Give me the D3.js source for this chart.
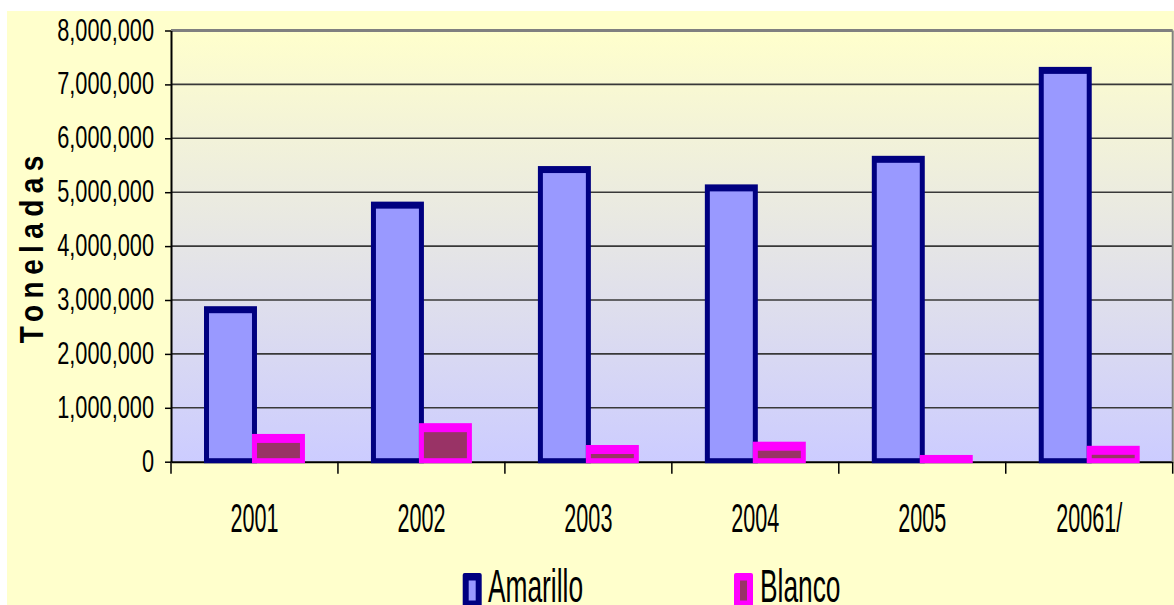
<!DOCTYPE html>
<html>
<head>
<meta charset="utf-8">
<script src="https://cdn.jsdelivr.net/npm/d3@7"></script>
<style>
  body { margin: 0; background: #ffffff; }
  svg { display: block; }
</style>
</head>
<body>
<svg id="chart"></svg>
<script>
// Data
const years = ["2001", "2002", "2003", "2004", "2005", "20061/"];
const amarillo = [2820000, 4760000, 5420000, 5080000, 5610000, 7260000];
const blanco = [450000, 650000, 245000, 306000, 60000, 230000];
const seriesNames = ["Amarillo", "Blanco"];
const yTicks = [0, 1000000, 2000000, 3000000, 4000000, 5000000, 6000000, 7000000, 8000000];

// Styles per series (kept apart from the data)
const seriesStyle = {
  Amarillo: { fill: "#9999FF", stroke: "#000080", top: 7 },
  Blanco: { fill: "#993366", stroke: "#FF00FF", top: 9 }
};

const W = 1174, H = 605;
const plot = { left: 171, right: 1172.7, top: 30.5, bottom: 461.7 };

const svg = d3.select("#chart")
  .attr("width", W)
  .attr("height", H);

// Chart area background (light yellow), white strip top/left
svg.append("rect")
  .attr("x", 7).attr("y", 11)
  .attr("width", W - 7).attr("height", H - 11)
  .attr("fill", "#FFFFCC");

// Plot area gradient
const defs = svg.append("defs");
const grad = defs.append("linearGradient")
  .attr("id", "plotGrad")
  .attr("x1", 0).attr("y1", 0).attr("x2", 0).attr("y2", 1);
grad.append("stop").attr("offset", "0%").attr("stop-color", "#FFFFCC");
grad.append("stop").attr("offset", "100%").attr("stop-color", "#CCCCFF");

svg.append("rect")
  .attr("x", plot.left).attr("y", plot.top)
  .attr("width", plot.right - plot.left)
  .attr("height", plot.bottom - plot.top)
  .attr("fill", "url(#plotGrad)");

// Scales
const x = d3.scaleBand()
  .domain(years)
  .range([plot.left, plot.right])
  .paddingInner(0)
  .paddingOuter(0);

const sub = d3.scaleBand()
  .domain(seriesNames)
  .range([0, x.bandwidth()])
  .paddingInner(0)
  .paddingOuter(0.74);

const y = d3.scaleLinear()
  .domain([0, 8000000])
  .range([plot.bottom, plot.top]);

// Gridlines
svg.append("g")
  .selectAll("line")
  .data(yTicks.slice(1, -1))
  .enter()
  .append("line")
  .attr("x1", plot.left).attr("x2", plot.right)
  .attr("y1", d => y(d)).attr("y2", d => y(d))
  .attr("stroke", "#383838")
  .attr("stroke-width", 1.6);

// Top border (gray)
svg.append("line")
  .attr("x1", plot.left).attr("x2", plot.right)
  .attr("y1", y(8000000)).attr("y2", y(8000000))
  .attr("stroke", "#808080")
  .attr("stroke-width", 3);

// Y axis
const yAxis = d3.axisLeft(y)
  .tickValues(yTicks)
  .tickSize(6)
  .tickSizeOuter(0)
  .tickFormat(d3.format(","));

const yAxisG = svg.append("g")
  .attr("transform", `translate(${ plot.left }, 0)`)
  .call(yAxis);

yAxisG.select(".domain").attr("stroke", "#000").attr("stroke-width", 2);
yAxisG.selectAll(".tick line").attr("stroke", "#000").attr("stroke-width", 1.5);
yAxisG.selectAll(".tick text")
  .attr("x", 0).attr("y", 0).attr("dy", null)
  .attr("transform", "translate(-17, 9.5) scale(0.68, 1)")
  .attr("text-anchor", "end")
  .style("font-family", "'Liberation Sans', Arial, sans-serif")
  .style("font-size", "32px")
  .attr("fill", "#000");

// X axis (labels at band centres, ticks at band edges)
const xAxis = d3.axisBottom(x)
  .tickSize(0)
  .tickSizeOuter(0);

const xAxisG = svg.append("g")
  .attr("transform", `translate(0, ${ plot.bottom })`)
  .call(xAxis);

xAxisG.select(".domain").attr("stroke", "#000").attr("stroke-width", 2);
xAxisG.selectAll(".tick text")
  .attr("y", 0).attr("dy", null)
  .attr("transform", "translate(0, 69.8) scale(0.54, 1)")
  .style("font-family", "'Liberation Sans', Arial, sans-serif")
  .style("font-size", "40px")
  .attr("fill", "#000");

const edges = years.map(d => x(d)).concat([x.range()[1]]);
svg.append("g")
  .selectAll("line")
  .data(edges)
  .enter()
  .append("line")
  .attr("x1", d => d).attr("x2", d => d)
  .attr("y1", plot.bottom).attr("y2", plot.bottom + 12)
  .attr("stroke", "#000")
  .attr("stroke-width", 1.5);

// Bars
const seriesData = [
  { name: "Amarillo", values: amarillo },
  { name: "Blanco", values: blanco }
];

seriesData.forEach(s =>
{
  const st = seriesStyle[s.name];
  const g = svg.append("g").attr("class", "series-" + s.name);
  const w = sub.bandwidth();

  g.selectAll(".outer")
    .data(s.values)
    .enter()
    .append("rect")
    .attr("class", "outer")
    .attr("x", (d, i) => x(years[i]) + sub(s.name) - 2.5)
    .attr("y", d => y(d) - 3.5)
    .attr("width", w + 5)
    .attr("height", d => y(0) + 1.5 - (y(d) - 3.5))
    .attr("fill", st.stroke);

  g.selectAll(".inner")
    .data(s.values)
    .enter()
    .append("rect")
    .attr("class", "inner")
    .attr("x", (d, i) => x(years[i]) + sub(s.name) + 2.5)
    .attr("y", d => y(d) - 3.5 + st.top)
    .attr("width", w - 5)
    .attr("height", d => Math.max(0, (y(0) - 3.5) - (y(d) - 3.5 + st.top)))
    .attr("fill", st.fill);
});

// Right border (gray)
svg.append("line")
  .attr("x1", plot.right).attr("x2", plot.right)
  .attr("y1", plot.top).attr("y2", plot.bottom)
  .attr("stroke", "#808080")
  .attr("stroke-width", 2);

// Y axis title
svg.append("text")
  .attr("transform", "translate(43.3, 343.3) rotate(-90) scale(1, 1.17)")
  .attr("text-anchor", "start")
  .style("font-family", "'Liberation Sans', Arial, sans-serif")
  .style("font-size", "28px")
  .style("font-weight", "bold")
  .style("letter-spacing", "6.4px")
  .attr("fill", "#000")
  .text("Toneladas");

// Legend
const legendItems = [
  { name: "Amarillo", mx: 462.7, tx: 488 },
  { name: "Blanco", mx: 734, tx: 760 }
];

const legend = svg.append("g").attr("class", "legend");
legendItems.forEach(item =>
{
  const st = seriesStyle[item.name];
  legend.append("rect")
    .attr("x", item.mx).attr("y", 573)
    .attr("width", 19).attr("height", 36)
    .attr("rx", 2)
    .attr("fill", st.stroke);
  legend.append("rect")
    .attr("x", item.mx + 6).attr("y", 580.5)
    .attr("width", 7).attr("height", 20)
    .attr("fill", st.fill);
  legend.append("text")
    .attr("transform", `translate(${ item.tx }, 602) scale(0.56, 1)`)
    .style("font-family", "'Liberation Sans', Arial, sans-serif")
    .style("font-size", "47px")
    .attr("fill", "#000")
    .text(item.name);
});
</script>
</body>
</html>
